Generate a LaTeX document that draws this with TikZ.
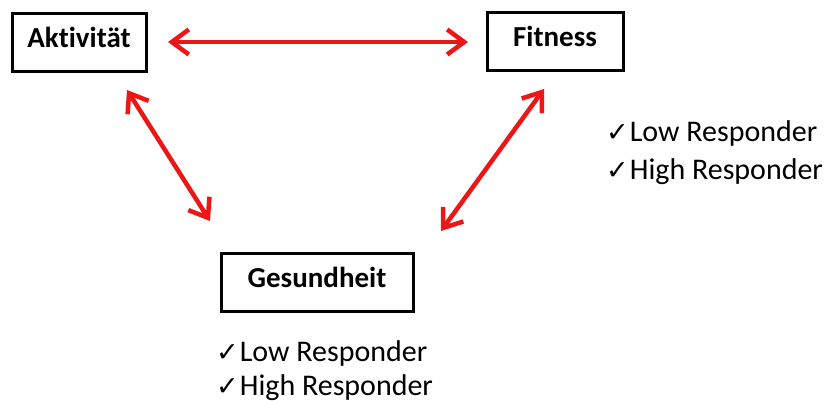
\documentclass[tikz,border=0pt]{standalone}
\usepackage{fontspec}
\setmainfont[RawFeature={-liga}]{Carlito}
\newfontfamily\chkfont{DejaVu Sans}
\usetikzlibrary{arrows.meta}
\definecolor{arrred}{RGB}{236,22,22}
\tikzset{
  box/.style={draw=black, line width=3pt, minimum width=#1, minimum height=58pt,
    inner sep=0pt, font=\fontsize{29}{30}\selectfont\bfseries, text height=15pt, text depth=5pt},
  link/.style={draw=arrred, line width=4.5pt,
    {Straight Barb[length=17pt,width=25pt]}-{Straight Barb[length=17pt,width=25pt]}},
  item/.style={anchor=base west, inner sep=0pt, font=\fontsize{30}{36}\selectfont}
}
\newcommand{\chkmark}{{\chkfont\fontsize{27}{28}\selectfont ✓}\hspace{1pt}}
\begin{document}
\begin{tikzpicture}[x=1pt,y=-1pt]
\useasboundingbox (0,0) rectangle (828,401);
\node[box=134pt] (akt) at (79,43) {Aktivität};
\node[box=136pt] (fit) at (555,42) {Fitness};
\node[box=192pt] (ges) at (317,282) {Gesundheit};
\coordinate (a1) at (168,42);
\coordinate (f1) at (468,42);
\coordinate (a2) at (127,90);
\coordinate (g1) at (210,221);
\coordinate (f2) at (544,89);
\coordinate (g2) at (441,231);
\draw[link] (a1) -- (f1);
\draw[link] (a2) -- (g1);
\draw[link] (f2) -- (g2);
\node[item] (fl) at (606,142) {\chkmark Low Responder};
\node[item] (fh) at (606,179) {\chkmark High Responder};
\node[item] (gl) at (216,361) {\chkmark Low Responder};
\node[item] (gh) at (216,395) {\chkmark High Responder};
\end{tikzpicture}
\end{document}
